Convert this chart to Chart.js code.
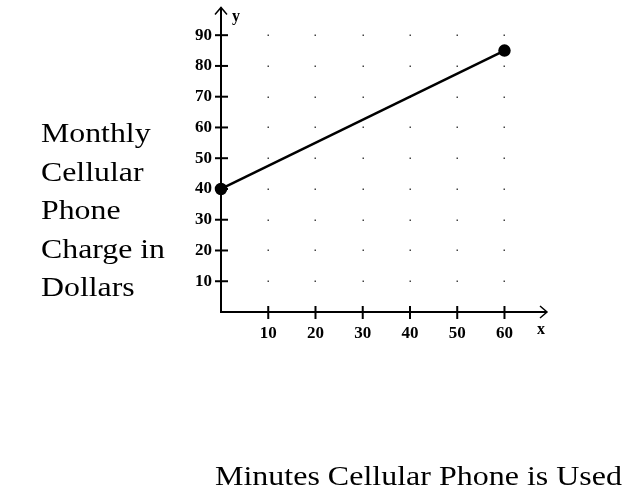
<!DOCTYPE html>
<html>
<head>
<meta charset="utf-8">
<script src="https://cdn.jsdelivr.net/npm/chart.js@4/dist/chart.umd.min.js"></script>
<style>
  html, body { margin: 0; padding: 0; background: #fff; }
  #wrap { position: relative; width: 640px; height: 493px; overflow: hidden; }
  #chart { position: absolute; left: 0; top: 0; }
  .lbl { position: absolute; font-family: "Liberation Serif", "DejaVu Serif", serif; color: #000; white-space: nowrap; transform-origin: 0 0; }
  #ylabel { left: 41px; top: 114px; font-size: 27px; line-height: 38.5px; }
  #xlabel { left: 215px; top: 461px; font-size: 27px; }
  .axname { position: absolute; font-family: "Liberation Serif", serif; font-weight: bold; font-size: 16px; }
</style>
</head>
<body>
<div id="wrap">
  <canvas id="chart" width="640" height="493"></canvas>
  <div id="ylabel" class="lbl">Monthly<br>Cellular<br>Phone<br>Charge in<br>Dollars</div>
  <div id="xlabel" class="lbl">Minutes Cellular Phone is Used</div>
  <div class="axname" style="left:232px; top:7px;">y</div>
  <div class="axname" style="left:537px; top:320px;">x</div>
</div>
<script>
// Line through the two plotted endpoints
const minutes = [0, 60];
const charge = [40, 85];

// Tick labels shown on each axis
const xTicks = [10, 20, 30, 40, 50, 60];
const yTicks = [10, 20, 30, 40, 50, 60, 70, 80, 90];

// Stretch a text block horizontally so it fills the width seen in the picture
function fitWidth(id, target) {
  const el = document.getElementById(id);
  const w = el.getBoundingClientRect().width;
  el.style.transform = 'scaleX(' + (target / w) + ')';
}
fitWidth('xlabel', 407);
fitWidth('ylabel', 124);

// Axes with arrow heads, crossing tick marks and the dotted grid
const axesPlugin = {
  id: 'axes',
  beforeDatasetsDraw(chart) {
    const { ctx, chartArea, scales } = chart;
    const x0 = scales.x.getPixelForValue(0);
    const y0 = scales.y.getPixelForValue(0);
    ctx.save();

    // grid dots
    ctx.fillStyle = '#444';
    xTicks.forEach(xv => {
      yTicks.forEach(yv => {
        const px = scales.x.getPixelForValue(xv);
        const py = scales.y.getPixelForValue(yv);
        ctx.fillRect(Math.round(px) - 0.5, Math.round(py) - 0.5, 1.5, 1.5);
      });
    });

    ctx.strokeStyle = '#000';
    ctx.lineWidth = 2;
    ctx.beginPath();
    ctx.moveTo(x0, chartArea.top);
    ctx.lineTo(x0, y0);
    ctx.lineTo(chartArea.right, y0);
    ctx.stroke();

    // tick marks
    ctx.lineWidth = 2;
    xTicks.forEach(v => {
      const px = scales.x.getPixelForValue(v);
      ctx.beginPath();
      ctx.moveTo(px, y0 - 6);
      ctx.lineTo(px, y0 + 7);
      ctx.stroke();
    });
    yTicks.forEach(v => {
      const py = scales.y.getPixelForValue(v);
      ctx.beginPath();
      ctx.moveTo(x0 - 6, py);
      ctx.lineTo(x0 + 7, py);
      ctx.stroke();
    });

    // arrow heads
    ctx.lineWidth = 1.5;
    ctx.beginPath();
    ctx.moveTo(x0 - 6, chartArea.top + 7);
    ctx.lineTo(x0, chartArea.top);
    ctx.lineTo(x0 + 6, chartArea.top + 7);
    ctx.moveTo(chartArea.right - 7, y0 - 6);
    ctx.lineTo(chartArea.right, y0);
    ctx.lineTo(chartArea.right - 7, y0 + 6);
    ctx.stroke();
    ctx.restore();
  }
};

// drop the extra room Chart.js keeps for the end labels
function noEdgePadding(s) {
  s.paddingTop = 0;
  s.paddingBottom = 0;
  s.paddingLeft = 0;
  s.paddingRight = 0;
}

new Chart(document.getElementById('chart'), {
  type: 'scatter',
  data: {
    datasets: [{
      data: minutes.map((m, i) => ({ x: m, y: charge[i] })),
      showLine: true,
      borderColor: '#000',
      backgroundColor: '#000',
      borderWidth: 2.5,
      pointRadius: 5,
      pointBackgroundColor: '#000',
      pointBorderColor: '#000',
      clip: false
    }]
  },
  options: {
    responsive: false,
    animation: false,
    layout: { padding: { left: 0, top: 3, right: 93, bottom: 0 } },
    plugins: { legend: { display: false }, tooltip: { enabled: false } },
    scales: {
      x: {
        type: 'linear',
        min: 0,
        max: 69,
        grid: { display: false },
        border: { display: false },
        afterBuildTicks: s => { s.ticks = xTicks.map(v => ({ value: v })); },
        afterFit: s => { s.height = 181; noEdgePadding(s); },
        ticks: {
          padding: 3,
          color: '#000',
          font: { family: 'Liberation Serif', weight: 'bold', size: 17 }
        }
      },
      y: {
        min: 0,
        max: 99,
        grid: { display: false },
        border: { display: false },
        afterBuildTicks: s => { s.ticks = yTicks.map(v => ({ value: v })); },
        afterFit: s => { s.width = 221; noEdgePadding(s); },
        ticks: {
          padding: 1,
          color: '#000',
          font: { family: 'Liberation Serif', weight: 'bold', size: 17 }
        }
      }
    }
  },
  plugins: [axesPlugin]
});
</script>
</body>
</html>
